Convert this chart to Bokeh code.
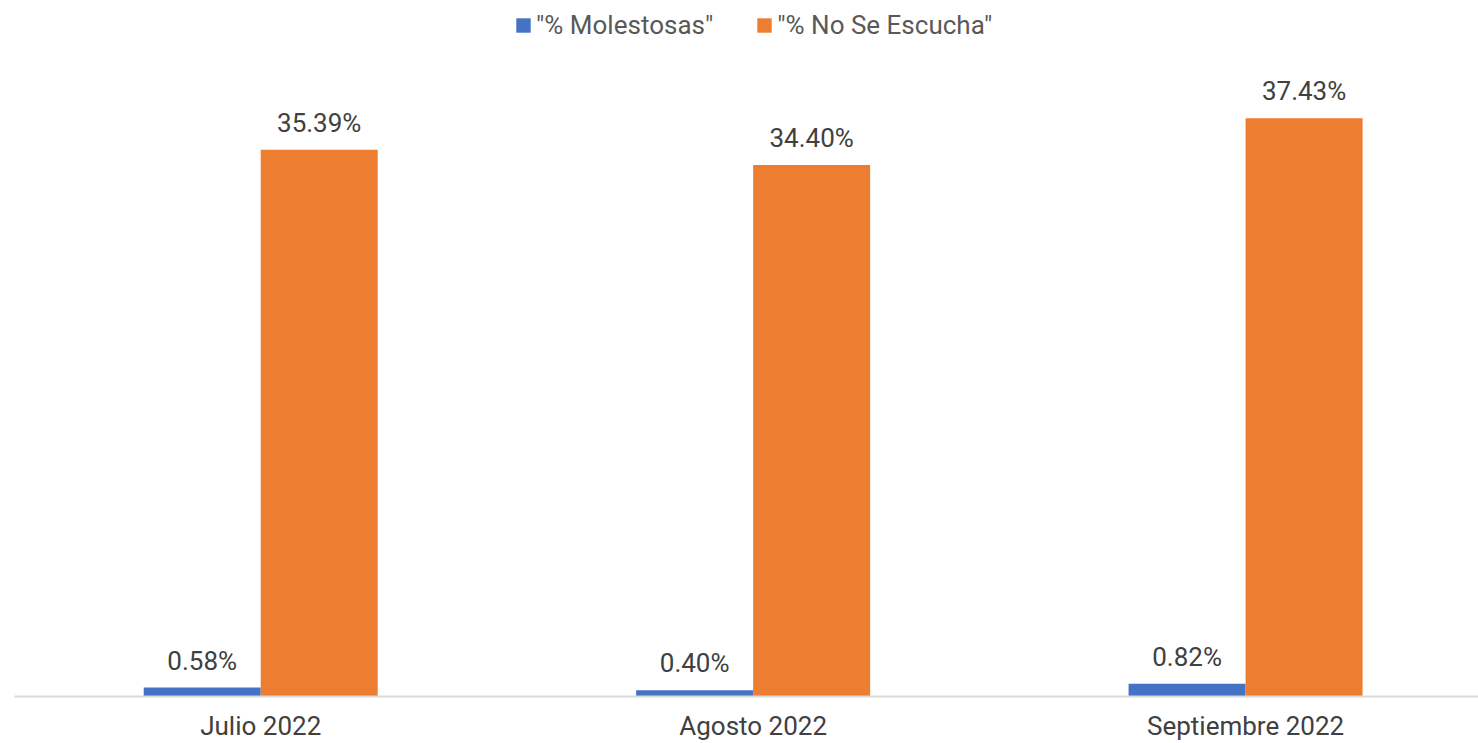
from bokeh.plotting import figure
from bokeh.models import ColumnDataSource, Range1d, FixedTicker, LabelSet, Legend
from bokeh.core.properties import value
from bokeh.embed import file_html
from bokeh.resources import INLINE

categories = ["Julio 2022", "Agosto 2022", "Septiembre 2022"]
molestosas = [0.58, 0.40, 0.82]
no_se_escucha = [35.39, 34.40, 37.43]
series_names = ['"% Molestosas"', '"% No Se Escucha"']
colors = ["#4472C4", "#ED7D31"]

bar_w = 0.2376
centers = [i + 0.5 for i in range(len(categories))]

src_a = ColumnDataSource(dict(
    x=[c - bar_w / 2 for c in centers], top=molestosas,
    label=[f"{v:.2f}%" for v in molestosas]))
src_b = ColumnDataSource(dict(
    x=[c + bar_w / 2 for c in centers], top=no_se_escucha,
    label=[f"{v:.2f}%" for v in no_se_escucha]))

p = figure(width=1478, height=743, output_backend="svg", toolbar_location=None,
           x_range=Range1d(0, 2.973), y_range=Range1d(0, 45.05),
           y_axis_location=None, min_border_left=14, min_border_right=0,
           min_border_top=0, min_border_bottom=45)
p.outline_line_color = None
p.xgrid.visible = False
p.ygrid.visible = False
p.background_fill_color = "white"
p.border_fill_color = "white"

r1 = p.vbar(x="x", top="top", width=bar_w, bottom=0, source=src_a,
            fill_color=colors[0], line_color=None)
r2 = p.vbar(x="x", top="top", width=bar_w, bottom=0, source=src_b,
            fill_color=colors[1], line_color=None)

for src in (src_a, src_b):
    lab = LabelSet(x="x", y="top", text="label", source=src, text_align="center",
                   text_baseline="alphabetic", y_offset=18,
                   text_font=value("Roboto"), text_font_size=value("26px"),
                   text_color="#404040")
    p.add_layout(lab)

ax = p.xaxis[0]
ax.ticker = FixedTicker(ticks=centers)
ax.major_label_overrides = {c: n for c, n in zip(centers, categories)}
ax.major_tick_line_color = None
ax.minor_tick_line_color = None
ax.axis_line_color = "#D9D9D9"
ax.axis_line_width = 2
ax.major_label_text_font = "Roboto"
ax.major_label_text_font_size = "26px"
ax.major_label_text_color = "#404040"
ax.major_label_standoff = 8

legend = Legend(items=[(series_names[0], [r1]), (series_names[1], [r2])],
                location=(500, 656), orientation="horizontal",
                glyph_width=18, glyph_height=18, label_standoff=4, spacing=42,
                label_text_font="Roboto", label_text_font_size="26px",
                label_text_color="#595959", border_line_color=None,
                background_fill_alpha=0, margin=0, padding=0)
p.add_layout(legend)

open("out.html", "w").write(file_html(p, INLINE))
